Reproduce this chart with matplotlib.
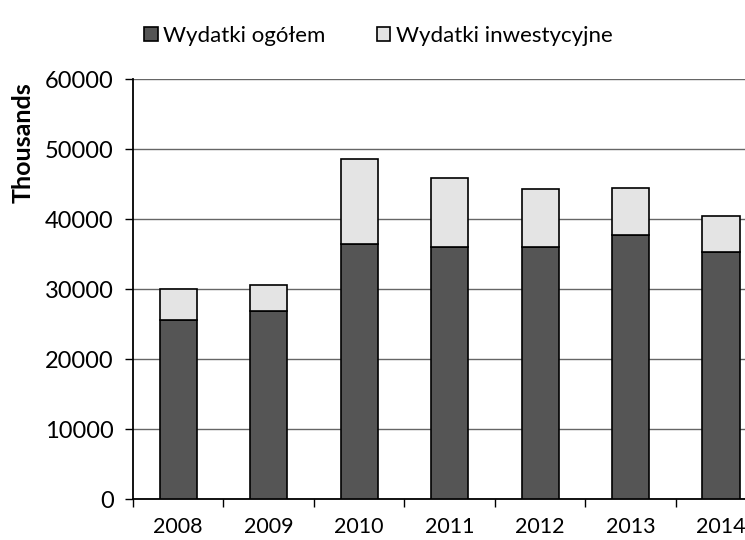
import matplotlib.pyplot as plt
import numpy as np

years = ["2008", "2009", "2010", "2011", "2012", "2013", "2014"]
# values in thousands
ogolem = [25600, 26800, 36500, 36000, 36000, 37700, 35300]
inwestycyjne = [4400, 3800, 12100, 9800, 8300, 6700, 5200]

dark = "#555555"
light = "#e4e4e4"
font = "Lato"

plt.rcParams["font.family"] = [font, "DejaVu Sans"]

fig = plt.figure(figsize=(7.45, 5.4), dpi=100)
ax = fig.add_axes([0.1785, 0.0759, 0.85, 0.7778])

x = np.arange(len(years))
ax.bar(x, ogolem, width=0.41, color=dark, edgecolor="black", linewidth=1.2,
       label="Wydatki ogółem", zorder=3)
ax.bar(x, inwestycyjne, width=0.41, bottom=ogolem, color=light,
       edgecolor="black", linewidth=1.2, label="Wydatki inwestycyjne", zorder=3)

ax.set_xlim(-0.5, len(years) - 0.5)
ax.set_ylim(0, 60000)
ax.set_yticks(range(0, 60001, 10000))
ax.yaxis.grid(True, color="#666666", linewidth=1.0, zorder=0)

# category labels at centres, tick marks between categories
ax.set_xticks(x)
ax.set_xticklabels(years, fontsize=15.5)
ax.set_xticks(np.arange(-0.5, len(years), 1), minor=True)
ax.tick_params(axis="x", which="major", length=0, pad=13)
ax.tick_params(axis="x", which="minor", length=6, width=1, direction="out")
ax.tick_params(axis="y", labelsize=17, length=6, width=1, direction="out", pad=8)

for side in ["top", "right"]:
    ax.spines[side].set_visible(False)
for side in ["left", "bottom"]:
    ax.spines[side].set_linewidth(1.3)

fig.text(0.0315, 0.735, "Thousands", rotation=90, ha="center", va="center",
         fontsize=18, fontweight="bold")

fig.legend(loc="center", bbox_to_anchor=(0.508, 0.933), ncol=2, frameon=False,
           fontsize=16, handlelength=0.6, handleheight=0.6, handletextpad=0.25,
           columnspacing=2.3)

fig.savefig("out.png", dpi=100)
